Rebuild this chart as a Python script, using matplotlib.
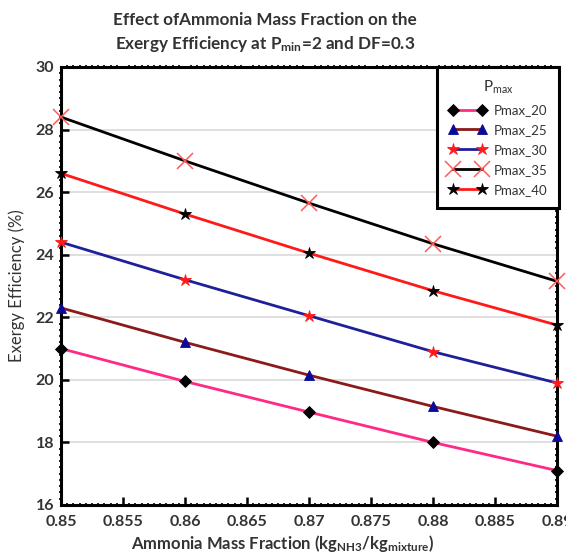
import matplotlib
matplotlib.use("Agg")
import matplotlib.pyplot as plt
from matplotlib.ticker import MultipleLocator, FuncFormatter

plt.rcParams['font.family'] = ['Lato', 'DejaVu Sans']
plt.rcParams['mathtext.default'] = 'regular'

x = [0.85, 0.86, 0.87, 0.88, 0.89]
labels = ['Pmax_20', 'Pmax_25', 'Pmax_30', 'Pmax_35', 'Pmax_40']
pmax_20 = [21.0, 19.95, 18.97, 18.0, 17.1]
pmax_25 = [22.3, 21.2, 20.15, 19.15, 18.2]
pmax_30 = [24.4, 23.2, 22.05, 20.9, 19.9]
pmax_35 = [28.4, 27.0, 25.65, 24.35, 23.15]
pmax_40 = [26.6, 25.3, 24.05, 22.85, 21.75]
series = [pmax_20, pmax_25, pmax_30, pmax_35, pmax_40]

line_colors = ['#FF2A85', '#8B1A1A', '#1F1F99', '#000000', '#FF1A1A']
markers = ['D', '^', '*', 'x', '*']
marker_colors = ['#000000', '#0A0A99', '#FF1A1A', '#FF5A5A', '#000000']
marker_sizes = [6, 7, 9, 11, 9]

fig = plt.figure(figsize=(5.66, 5.58), dpi=100)
ax = fig.add_axes([61/566, 1-505/558, 496/566, 438/558])

for ys, lab, lc, m, mc, ms in zip(series, labels, line_colors, markers, marker_colors, marker_sizes):
    ax.plot(x, ys, color=lc, lw=2, marker=m, markersize=ms,
            markerfacecolor=mc, markeredgecolor=mc,
            markeredgewidth=1.1 if m == 'x' else 0.6, label=lab, clip_on=False, zorder=3)

ax.set_xlim(0.85, 0.89)
ax.set_ylim(16, 30)
ax.xaxis.set_major_locator(MultipleLocator(0.005))
ax.yaxis.set_major_locator(MultipleLocator(2))
ax.xaxis.set_minor_locator(MultipleLocator(0.0005))
ax.yaxis.set_minor_locator(MultipleLocator(0.2))
ax.xaxis.set_major_formatter(FuncFormatter(lambda v, p: ('%.3f' % v).rstrip('0')))
ax.yaxis.set_major_formatter(FuncFormatter(lambda v, p: '%d' % round(v)))

ax.grid(axis='y', which='major', color='#D9D9D9', lw=1.2, zorder=0)
for s in ax.spines.values():
    s.set_linewidth(2.2)
    s.set_color('black')
ax.tick_params(which='major', direction='in', length=6, width=1.8, labelsize=11.5,
               top=False, right=False)
ax.tick_params(axis='x', which='major', pad=7)
ax.tick_params(axis='y', which='major', pad=5)
ax.tick_params(which='minor', direction='inout', length=3, width=1.2,
               top=True, right=True)
for t in ax.get_xticklabels() + ax.get_yticklabels():
    t.set_fontweight('bold')
    t.set_color('#333333')

ax.set_xlabel('Ammonia Mass Fraction (kg$_{NH3}$/kg$_{mixture}$)', fontsize=12,
              fontweight='bold', color='#333333')
ax.xaxis.set_label_coords((282 - 61) / 496, -0.064)
ax.set_ylabel('Exergy Efficiency (%)', fontsize=12, color='#333333')
ax.yaxis.set_label_coords(-0.072, 0.5)

fig.text(0.468, 0.965, 'Effect ofAmmonia Mass Fraction on the', ha='center', va='center',
         fontsize=12.3, fontweight='bold', color='#333333')
fig.text(0.468, 0.922, 'Exergy Efficiency at P$_{min}$=2 and DF=0.3', ha='center', va='center',
         fontsize=12.3, fontweight='bold', color='#333333')

leg = ax.legend(title='P$_{max}$', loc='upper right', bbox_to_anchor=(1.005, 1.0),
                numpoints=2, handlelength=2.8, fontsize=9.5, title_fontsize=11,
                frameon=True, fancybox=False, borderpad=0.9, labelspacing=0.6,
                handletextpad=0.6, borderaxespad=0)
leg.get_frame().set_edgecolor('black')
leg.get_frame().set_linewidth(2.2)
leg.get_frame().set_alpha(1)
for t in leg.get_texts():
    t.set_color('#333333')
leg.get_title().set_color('#333333')
leg.set_zorder(5)

fig.savefig('out.png', dpi=100)
